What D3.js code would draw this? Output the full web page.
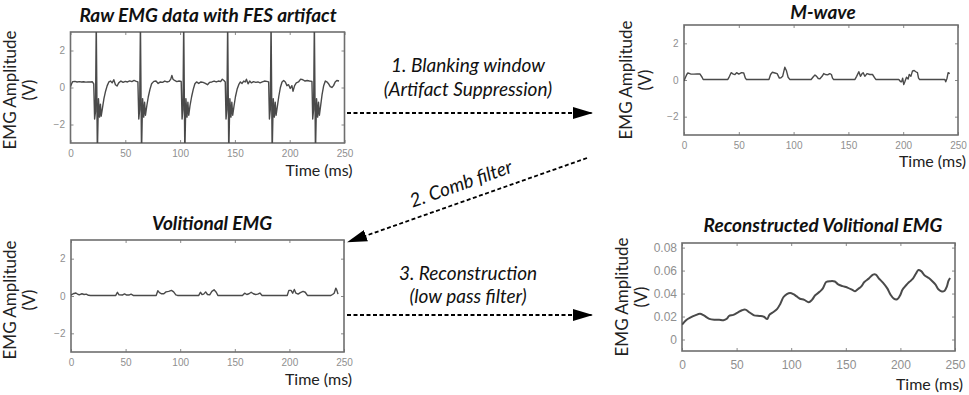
<!DOCTYPE html>
<html>
<head>
<meta charset="utf-8">
<script src="https://cdn.jsdelivr.net/npm/d3@7"></script>
<style>
  body { margin: 0; background: #fff; }
  svg text { font-family: Lato, "Open Sans", sans-serif; }
  .tick text { font-family: "Liberation Sans", Arial, sans-serif; fill: #8f8f8f; }
  .tick line { stroke: #8a8a8a; }
</style>
</head>
<body>
<div id="chart"></div>
<script>
// ---- data (time in ms, amplitude in V) ----
var timeTicks = [0, 50, 100, 150, 200, 250];
var emgTicks = [-2, 0, 2];
var reconTicks = [0, 0.02, 0.04, 0.06, 0.08];

// raw EMG with the stimulation artifact (spikes are clipped by the axes)
var rawEmg = [
  [0,0.05],[1,0.2],[2,0.32],[4,0.33],[6,0.3],[8,0.32],[10,0.3],[12,0.31],[14,0.29],[16,0.3],[18,0.3],[20,0.31],[21.2,0.2],
  [22,-1.7],[22.8,-1.3],[23.5,3.6],[24.5,-3.6],[25.5,-0.6],[26.5,-1.6],[27.3,-0.9],[28,-1.55],[29.2,-1.1],[30.5,-0.6],[32,-0.2],[33.5,0.1],
  [35,0.3],[36.5,0.35],[38,0.25],[39.5,0.42],[41,0.15],[42.5,0.08],[44,0.25],[46,0.35],[48,0.28],[50,0.33],[52,0.3],[54,0.36],[56,0.32],[58,0.38],[60,0.33],[61.5,0.3],
  [62.3,-1.7],[63.1,-1.2],[63.8,3.6],[64.8,-3.6],[65.8,-0.6],[66.8,-1.6],[67.6,-0.8],[68.4,-1.5],[69.6,-1.0],[71,-0.5],[72.5,-0.1],[74,0.2],
  [76,0.33],[78,0.35],[80,0.22],[82,0.3],[84,0.28],[86,0.35],[88,0.3],[90,0.33],[91.5,0.45],[92.5,0.65],[93.5,0.45],[95,0.38],[97,0.32],[99,0.35],[101,0.33],
  [101.8,-1.7],[102.6,-1.2],[103.3,3.6],[104.3,-3.6],[105.3,-0.6],[106.3,-1.6],[107.1,-0.8],[107.9,-1.5],[109,-1.0],[110.5,-0.5],[112,-0.1],[113.5,0.2],
  [115,0.3],[117,0.22],[119,0.3],[121,0.28],[123,0.22],[125,0.15],[127,0.28],[129,0.3],[131,0.35],[133,0.3],[135,0.35],[137,0.32],[138.5,0.45],[140,0.38],[141.2,0.3],
  [141.9,-1.7],[142.7,-1.2],[143.4,3.6],[144.4,-3.6],[145.4,-0.6],[146.4,-1.6],[147.2,-0.8],[148,-1.5],[149.2,-1.0],[150.5,-0.5],[152,-0.1],[153.5,0.15],
  [155,0.3],[156.5,0.22],[158,0.35],[159.5,0.3],[160.5,0.45],[162,0.2],[163.5,0.35],[165,0.25],[167,0.32],[169,0.28],[171,0.3],[173,0.25],[175,0.3],[177,0.35],[179,0.33],[180.8,0.3],
  [181.5,-1.7],[182.3,-1.2],[183,3.6],[184,-3.6],[185,-0.6],[186,-1.6],[186.8,-0.8],[187.6,-1.5],[188.8,-1.0],[190,-0.5],[191.5,0],
  [193,0.3],[194.5,0.38],[196,0.3],[197.5,0.1],[199,0.15],[200.5,-0.05],[202,0.1],[203,-0.2],[204.5,0.1],[206,0.25],[208,0.3],[210,0.45],[212,0.42],[214,0.35],[216,0.38],[218,0.35],[220.3,0.33],
  [221,-1.7],[221.8,-1.2],[222.5,3.6],[223.5,-3.6],[224.5,-0.6],[225.5,-1.6],[226.3,-0.8],[227.1,-1.5],[228.2,-1.0],[229.5,-0.4],[231,0.1],
  [232.5,0.35],[234,0.3],[235.5,0.2],[237,0.05],[238.5,0],[240,0.1],[241.5,0.3],[243,0.38],[245,0.35]
];

// M-wave after the blanking window
var mWave = [
  [0,-0.05],[1,0.1],[2.5,0.3],[3.5,0.38],[6,0.33],[9,0.32],[12,0.33],[14.5,0.33],[16.5,0.15],[17.5,0.03],
  [40,0.03],[41.5,0.2],[43,0.4],[45,0.32],[46.5,0.3],[48,0.4],[50,0.32],[52.5,0.4],[54.5,0.38],[56,0.1],[57,0.03],
  [77.5,0.03],[79,0.3],[80.5,0.42],[83,0.38],[85,0.35],[87,0.1],[88.5,0.12],[90,0.2],[92,0.7],[93.5,0.5],[95,0.15],[96.5,0.03],
  [116,0.03],[118,0.18],[119.5,0.27],[121,0.2],[122.5,0.08],[124,0.07],[126,0.2],[127.5,0.35],[129,0.3],[131,0.28],[133,0.35],[134.5,0.3],[135.5,0.1],[136.5,0.03],
  [156,0.03],[157.5,0.2],[159.5,0.45],[161,0.2],[162.5,0.35],[163.5,0.4],[165,0.2],[167,0.35],[169.5,0.3],[172,0.3],[174,0.12],[175,0.03],
  [196,0.03],[197.5,-0.08],[198.5,-0.1],[199.5,0.1],[200.5,-0.25],[201.5,-0.1],[203,0.15],[204.5,0.05],[205.5,0.3],[207,0.2],[208.5,0.5],[210,0.52],[211.5,0.45],[213,0.4],[214,0.1],[215,0.03],
  [238,0.03],[238.8,-0.1],[240,0.1],[241,0.4],[242.5,0.35]
];

// volitional EMG after the comb filter
var volitional = [
  [0,0.05],[2,0.12],[4.5,0.16],[6.5,0.08],[8,0.07],[10,0.12],[12,0.08],[14,0.1],[16,0.04],[18,0.03],
  [41,0.03],[42.5,0.2],[44,0.06],[47,0.05],[49,0.11],[51,0.05],[53,0.05],[55,0.1],[57,0.03],
  [78,0.03],[79.5,0.28],[81,0.18],[83,0.12],[85,0.12],[87,0.22],[89.5,0.25],[92,0.3],[94,0.22],[96,0.06],[97.5,0.03],
  [117,0.03],[118.5,0.2],[120,0.08],[121.5,0.1],[123.3,0.22],[125,0.08],[127,0.06],[129,0.25],[131,0.33],[133,0.2],[134.5,0.03],
  [157,0.03],[159,0.15],[161,0.08],[163,0.12],[165,0.2],[167,0.12],[169,0.08],[171,0.1],[173,0.16],[175,0.03],
  [198,0.03],[199.5,0.3],[201.5,0.3],[203,0.15],[204.5,0.35],[206,0.15],[208,0.1],[210,0.18],[212.5,0.25],[214.5,0.2],[216.5,0.03],
  [238,0.03],[239.5,0.08],[241,0.15],[242.5,0.42],[243.5,0.3],[244.5,0.1]
];

// reconstructed volitional EMG (low pass)
var reconstructed = [
  [0,0.013],[1.5,0.0145],[4,0.017],[7.5,0.019],[12,0.021],[16.5,0.0225],[20,0.021],[25,0.018],[30,0.0172],[34,0.0172],[38,0.0168],
  [41,0.018],[43,0.0205],[47,0.0215],[51,0.0235],[55,0.0255],[58,0.026],[62,0.0235],[66,0.021],[71,0.0205],[75,0.0198],[78,0.0178],
  [80,0.0215],[83,0.0235],[87,0.0265],[90,0.031],[93,0.037],[96,0.0395],[99,0.0405],[102,0.0395],[105,0.0375],[108,0.0355],[112,0.0345],[116,0.0325],
  [119,0.0345],[122,0.0385],[126,0.0415],[129,0.0445],[132,0.05],[136,0.0508],[140,0.0505],[143,0.048],[147,0.0465],[152,0.045],[156,0.0432],[158.5,0.042],
  [161,0.0438],[164,0.046],[167,0.05],[171,0.053],[175,0.0565],[177.5,0.0565],[180,0.0535],[184,0.0495],[188,0.0445],[191,0.039],[194,0.0355],[197,0.035],
  [199.5,0.038],[202,0.0435],[205,0.047],[208,0.05],[211,0.0525],[214,0.057],[216.5,0.0605],[219,0.0595],[222,0.056],[226,0.0535],[229,0.051],[232,0.048],
  [235,0.0435],[238,0.0418],[240.5,0.0425],[242.5,0.046],[244,0.051],[245.5,0.0535]
];

var svg = d3.select("#chart").append("svg")
    .attr("width", 969)
    .attr("height", 395)
    .style("background", "#fff");

var defs = svg.append("defs");
defs.append("marker")
    .attr("id", "head")
    .attr("markerUnits", "userSpaceOnUse")
    .attr("markerWidth", 20).attr("markerHeight", 12)
    .attr("refX", 19).attr("refY", 6)
    .attr("orient", "auto")
  .append("path")
    .attr("d", "M0,0 L20,6 L0,12 Z")
    .attr("fill", "#000");

var panelId = 0;

function drawPanel(p) {
    panelId++;
    var x = d3.scaleLinear().domain([0, 250]).range([p.left, p.right]);
    var y = d3.scaleLinear().domain(p.yDomain).range([p.bottom, p.top]);
    var g = svg.append("g");

    defs.append("clipPath").attr("id", "clip" + panelId)
      .append("rect")
        .attr("x", p.left).attr("y", p.top)
        .attr("width", p.right - p.left).attr("height", p.bottom - p.top);

    // axes, MATLAB style ticks pointing inward
    var bottom = g.append("g")
        .attr("transform", "translate(0," + p.bottom + ")")
        .call(d3.axisBottom(x).tickValues(timeTicks).tickSize(-3).tickPadding(p.xPad).tickFormat(d3.format("d")));
    bottom.selectAll("text").style("font-size", p.tickSize + "px");
    bottom.select(".domain").remove();

    var top = g.append("g")
        .attr("transform", "translate(0," + p.top + ")")
        .call(d3.axisTop(x).tickValues(timeTicks).tickSize(-3).tickFormat(""));
    top.select(".domain").remove();

    var left = g.append("g")
        .attr("transform", "translate(" + p.left + ",0)")
        .call(d3.axisLeft(y).tickValues(p.yTicks).tickSize(-3).tickPadding(p.yPad).tickFormat(p.yFormat));
    left.selectAll("text").style("font-size", p.tickSize + "px");
    left.select(".domain").remove();

    var right = g.append("g")
        .attr("transform", "translate(" + p.right + ",0)")
        .call(d3.axisRight(y).tickValues(p.yTicks).tickSize(-3).tickFormat(""));
    right.select(".domain").remove();

    g.append("rect")
        .attr("x", p.left).attr("y", p.top)
        .attr("width", p.right - p.left).attr("height", p.bottom - p.top)
        .attr("fill", "none")
        .attr("stroke", "#6e6e6e")
        .attr("stroke-width", 1.6);

    var line = d3.line()
        .x(function(d) { return x(d[0]); })
        .y(function(d) { return y(d[1]); });
    if (p.smooth) line.curve(d3.curveCatmullRom);

    g.append("path")
        .datum(p.data)
        .attr("clip-path", "url(#clip" + panelId + ")")
        .attr("d", line)
        .attr("fill", "none")
        .attr("stroke", "#4a4a4a")
        .attr("stroke-width", p.smooth ? 2 : 1.4)
        .attr("stroke-linejoin", "round");

    // title
    g.append("text")
        .attr("x", p.titleX).attr("y", p.titleY)
        .attr("text-anchor", "middle")
        .style("font-size", "19px")
        .style("font-weight", "bold")
        .style("font-style", "italic")
        .style("fill", "#111")
        .text(p.title);

    // y label, two lines
    g.append("text")
        .attr("transform", "translate(" + p.ylabX + "," + p.ylabY + ") rotate(-90)")
        .attr("text-anchor", "middle")
        .style("font-size", "17px")
        .style("fill", "#222")
        .text("EMG Amplitude");
    g.append("text")
        .attr("transform", "translate(" + (p.ylabX + 19) + "," + p.ylabY + ") rotate(-90)")
        .attr("text-anchor", "middle")
        .style("font-size", "17px")
        .style("fill", "#222")
        .text("(V)");

    // x label
    g.append("text")
        .attr("x", p.right + 8).attr("y", p.xlabY)
        .attr("text-anchor", "end")
        .style("font-size", "16px")
        .style("fill", "#222")
        .text("Time (ms)");
}

drawPanel({
    title: "Raw EMG data with FES artifact", titleX: 208, titleY: 22,
    left: 70.5, right: 344.5, top: 32, bottom: 143,
    yDomain: [-3, 3], yTicks: emgTicks, yFormat: d3.format("d"),
    tickSize: 10, xPad: 7, yPad: 5.5,
    ylabX: 16, ylabY: 90, xlabY: 176,
    data: rawEmg
});
drawPanel({
    title: "M-wave", titleX: 823, titleY: 19,
    left: 684, right: 958, top: 25, bottom: 135,
    yDomain: [-3, 3], yTicks: emgTicks, yFormat: d3.format("d"),
    tickSize: 10, xPad: 7, yPad: 5.5,
    ylabX: 632, ylabY: 80, xlabY: 167,
    data: mWave
});
drawPanel({
    title: "Volitional EMG", titleX: 212, titleY: 230,
    left: 71, right: 344, top: 240, bottom: 352,
    yDomain: [-3, 3], yTicks: emgTicks, yFormat: d3.format("d"),
    tickSize: 10, xPad: 7, yPad: 5.5,
    ylabX: 16, ylabY: 300, xlabY: 385,
    data: volitional
});
drawPanel({
    title: "Reconstructed Volitional EMG", titleX: 823, titleY: 232,
    left: 682, right: 955, top: 243, bottom: 351,
    yDomain: [-0.01, 0.084], yTicks: reconTicks, yFormat: function(d) { return d === 0 ? "0" : d3.format(".2f")(d); },
    tickSize: 12, xPad: 9, yPad: 5,
    ylabX: 628, ylabY: 297, xlabY: 390,
    smooth: true,
    data: reconstructed
});

// ---- processing steps between the panels ----
var notes = svg.append("g").style("font-size", "19px").style("font-style", "italic").style("fill", "#111");

function arrow(x1, y1, x2, y2) {
    svg.append("line")
        .attr("x1", x1).attr("y1", y1).attr("x2", x2).attr("y2", y2)
        .attr("stroke", "#000")
        .attr("stroke-width", 1.8)
        .attr("stroke-dasharray", "4,2.5")
        .attr("marker-end", "url(#head)");
}

arrow(347, 113, 592, 113);
notes.append("text").attr("x", 468).attr("y", 72).attr("text-anchor", "middle").text("1. Blanking window");
notes.append("text").attr("x", 468).attr("y", 96).attr("text-anchor", "middle").text("(Artifact Suppression)");

arrow(587, 158, 348, 242);
notes.append("text")
    .attr("transform", "translate(463,190) rotate(-19.4)")
    .attr("text-anchor", "middle")
    .text("2. Comb filter");

arrow(347, 315, 592, 315);
notes.append("text").attr("x", 468).attr("y", 280).attr("text-anchor", "middle").text("3. Reconstruction");
notes.append("text").attr("x", 468).attr("y", 303).attr("text-anchor", "middle").text("(low pass filter)");
</script>
</body>
</html>
